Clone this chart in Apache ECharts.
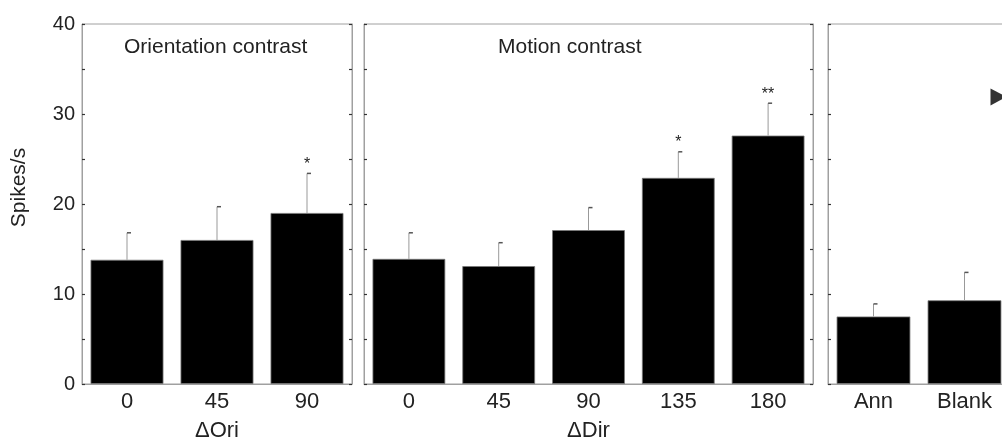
<!DOCTYPE html>
<html><head><meta charset="utf-8">
<script src="https://cdn.jsdelivr.net/npm/echarts/dist/echarts.min.js"></script>
<style>html,body{margin:0;padding:0;background:#fff}#c{width:1002px;height:437px}</style>
</head><body><div id="c"></div>
<script>
const oriCats = ['0', '45', '90'];
const oriMean = [13.8, 16.0, 19.0];
const oriUpper = [16.8, 19.7, 23.4];
const oriSig = ['', '', '*'];

const dirCats = ['0', '45', '90', '135', '180'];
const dirMean = [13.9, 13.1, 17.1, 22.9, 27.6];
const dirUpper = [16.8, 15.7, 19.6, 25.8, 31.2];
const dirSig = ['', '', '', '*', '**'];

const ctlCats = ['Ann', 'Blank'];
const ctlMean = [7.5, 9.3];
const ctlUpper = [8.9, 12.4];
const ctlSig = ['', ''];

const markerPoint = [[1, 31.9]];
const yTickLabels = [0, 10, 20, 30, 40];

const FONT = 'Liberation Sans, Arial, sans-serif';
const AXIS_GRAY = '#a0a0a0';
const TEXT = '#222';

const grids = [
  {left: 82, top: 24, width: 270, height: 360},
  {left: 364, top: 24, width: 449, height: 360},
  {left: 828, top: 24, width: 182, height: 360}
].map(g => Object.assign(g, {show: true, borderColor: AXIS_GRAY, borderWidth: 1, backgroundColor: 'transparent',
  containLabel: false, outerBoundsMode: 'none'}));

function xAx(idx, cats, name) {
  return {
    type: 'category', gridIndex: idx, data: cats,
    axisTick: {show: false},
    axisLine: {lineStyle: {color: AXIS_GRAY, width: 1}},
    axisLabel: {fontSize: 22, color: TEXT, margin: 7, fontFamily: FONT},
    name: name, nameLocation: 'middle', nameGap: 36,
    nameTextStyle: {fontSize: 22, color: TEXT, fontFamily: FONT}
  };
}
function yAx(idx, pos, labels, name) {
  return {
    type: 'value', gridIndex: idx, position: pos, min: 0, max: 40, interval: 5,
    splitLine: {show: false},
    axisLine: {show: true, onZero: false, lineStyle: {color: AXIS_GRAY, width: 1}},
    axisTick: {show: true, inside: true, length: 3, lineStyle: {color: '#333', width: 1.2}},
    axisLabel: {show: labels, inside: false, fontSize: 20, color: TEXT, margin: 7, fontFamily: FONT,
      formatter: v => yTickLabels.includes(v) ? String(v) : ''},
    name: name || '', nameLocation: 'middle', nameGap: 52,
    nameTextStyle: {fontSize: 21, color: TEXT, fontFamily: FONT, padding: [0, 0, 0, 33]}
  };
}

function barSeries(xi, yi, vals) {
  return {
    type: 'bar', xAxisIndex: xi, yAxisIndex: yi, data: vals, barCategoryGap: '19%',
    itemStyle: {color: '#000', borderColor: '#777', borderWidth: 0.8}, silent: true
  };
}
function errSeries(xi, yi, means, uppers, sig) {
  return {
    type: 'custom', xAxisIndex: xi, yAxisIndex: yi, z: 5, silent: true,
    encode: {x: 0, y: 2},
    data: means.map((m, i) => [i, m, uppers[i]]),
    renderItem: function (params, api) {
      const i = api.value(0);
      const p0 = api.coord([i, api.value(1)]);
      const p1 = api.coord([i, api.value(2)]);
      const ch = [
        {type: 'line', shape: {x1: p0[0], y1: p0[1], x2: p1[0], y2: p1[1]}, style: {stroke: '#999', lineWidth: 1}},
        {type: 'line', shape: {x1: p1[0], y1: p1[1], x2: p1[0] + 4, y2: p1[1]}, style: {stroke: '#555', lineWidth: 1.5}}
      ];
      const s = sig[params.dataIndex];
      if (s) {
        ch.push({type: 'text', style: {text: s, x: p1[0], y: p1[1] - 9, align: 'center', verticalAlign: 'middle',
          fontSize: 16, fontFamily: FONT, fill: TEXT}});
      }
      return {type: 'group', children: ch};
    }
  };
}

const option = {
  animation: false,
  textStyle: {fontFamily: FONT},
  title: [
    {text: 'Orientation contrast', left: 124, top: 37, padding: 0, textStyle: {fontSize: 21, fontWeight: 'normal', color: TEXT, fontFamily: FONT}},
    {text: 'Motion contrast', left: 498, top: 37, padding: 0, textStyle: {fontSize: 21, fontWeight: 'normal', color: TEXT, fontFamily: FONT}}
  ],
  grid: grids,
  xAxis: [xAx(0, oriCats, 'ΔOri'), xAx(1, dirCats, 'ΔDir'), xAx(2, ctlCats, '')],
  yAxis: [
    yAx(0, 'left', true, 'Spikes/s'), yAx(0, 'right', false),
    yAx(1, 'left', false), yAx(1, 'right', false),
    yAx(2, 'left', false), yAx(2, 'right', false)
  ],
  series: [
    barSeries(0, 0, oriMean), errSeries(0, 0, oriMean, oriUpper, oriSig),
    barSeries(1, 2, dirMean), errSeries(1, 2, dirMean, dirUpper, dirSig),
    barSeries(2, 4, ctlMean), errSeries(2, 4, ctlMean, ctlUpper, ctlSig),
    {type: 'scatter', xAxisIndex: 2, yAxisIndex: 4, data: markerPoint, symbol: 'triangle',
      symbolSize: [17, 16], symbolRotate: -90, symbolOffset: [34, 0], itemStyle: {color: '#000'}, silent: true, z: 6}
  ]
};
const chart = echarts.init(document.getElementById('c'), null, {renderer: 'canvas'});
chart.setOption(option);
</script>
</body></html>
